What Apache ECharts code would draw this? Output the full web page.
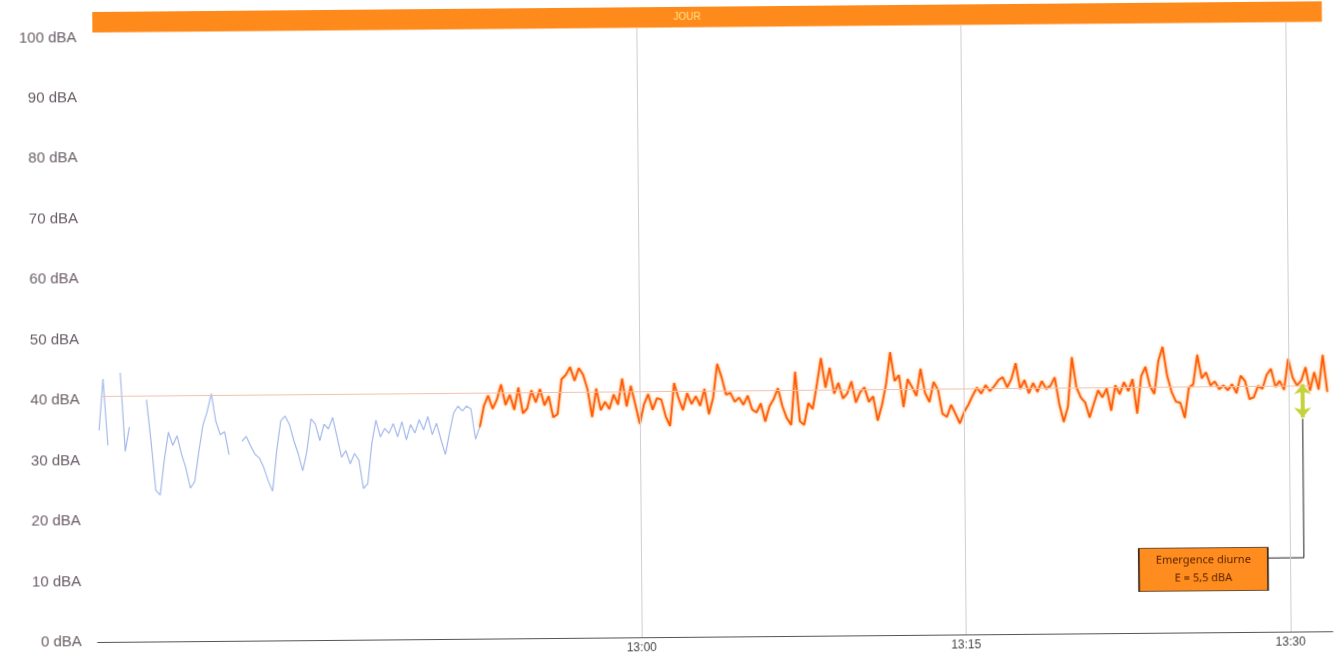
<!DOCTYPE html>
<html>
<head>
<meta charset="utf-8">
<script src="https://cdn.jsdelivr.net/npm/echarts@6/dist/echarts.min.js"></script>
<style>
  html, body { margin: 0; padding: 0; background: #fff; overflow: hidden; }
  #chart { width: 1338px; height: 656px; transform: rotate(-0.5deg); }
</style>
</head>
<body>
<div id="chart"></div>
<script>
// temps en minutes depuis 12:00, un point toutes les 0,2 min
const STEP = 0.2;
const blueStart = 35.0;
const orangeStart = 52.6;

// niveau résiduel (bleu)
const blueLevels = [
  35.0, 43.5, 32.5, null, null, 44.5, 31.5, 35.5, null, null,
  null, 40.0, 33.0, 25.0, 24.2, 30.0, 34.6, 32.4, 34.0, 31.0,
  28.6, 25.3, 26.4, 31.3, 35.7, 37.9, 40.9, 36.3, 34.1, 34.6,
  30.8, null, null, 33.0, 33.8, 32.2, 30.8, 30.2, 28.6, 26.4,
  24.7, 31.3, 36.3, 37.1, 35.7, 33.0, 30.8, 28.0, 31.3, 36.6,
  35.7, 33.0, 35.7, 34.9, 36.8, 33.5, 30.2, 31.3, 29.1, 30.8,
  29.7, 25.0, 25.8, 32.4, 36.3, 33.5, 34.9, 34.1, 35.7, 33.5,
  36.0, 33.0, 35.5, 34.1, 36.3, 34.6, 36.8, 33.8, 35.7, 33.0,
  30.5, 34.1, 37.4, 38.5, 37.7, 38.5, 38.0, 33.0, 35.0
];

// niveau ambiant (orange)
const orangeLevels = [
  35.0, 38.5, 40.2, 38.0, 39.5, 42.0, 38.6, 40.3, 37.8, 41.5,
  37.2, 38.0, 41.0, 39.0, 41.2, 38.5, 40.0, 36.5, 37.0, 42.8,
  43.5, 44.8, 42.5, 44.6, 43.5, 41.0, 36.5, 41.2, 37.6, 39.0,
  37.8, 40.2, 38.5, 42.8, 38.2, 41.6, 38.5, 35.3, 38.5, 40.2,
  37.6, 39.5, 39.3, 36.5, 34.9, 42.0, 39.5, 37.5, 40.3, 38.5,
  39.8, 38.2, 41.0, 36.8, 39.5, 45.1, 42.9, 40.0, 40.3, 38.8,
  39.5, 38.3, 39.8, 37.5, 37.0, 38.5, 35.5, 38.0, 39.2, 41.0,
  38.0, 36.0, 34.9, 43.7, 35.5, 34.9, 38.5, 37.5, 41.5, 45.9,
  41.0, 44.3, 40.0, 41.8, 39.2, 40.0, 42.0, 38.5, 40.2, 41.0,
  38.6, 39.5, 35.5, 38.0, 41.5, 46.8, 42.0, 43.0, 37.7, 42.3,
  41.0, 39.5, 44.0, 40.0, 38.5, 41.8, 40.5, 36.5, 36.0, 38.0,
  36.5, 34.9, 36.8, 38.0, 39.5, 40.8, 39.8, 41.2, 40.2, 41.0,
  42.0, 42.5, 40.8, 42.2, 44.8, 40.5, 42.0, 39.8, 41.5, 40.0,
  41.8, 40.5, 41.0, 42.4, 38.0, 35.0, 37.5, 45.7, 40.7, 39.0,
  38.2, 35.7, 38.0, 40.2, 39.0, 40.5, 36.8, 41.0, 39.5, 41.5,
  40.0, 42.0, 36.3, 42.5, 44.0, 40.8, 39.5, 45.0, 47.3, 42.5,
  39.8, 38.2, 38.0, 35.5, 40.5, 41.0, 45.9, 42.0, 43.0, 40.8,
  41.5, 40.2, 40.8, 40.0, 41.0, 39.5, 42.4, 41.5, 38.5, 38.8,
  40.7, 40.2, 42.5, 43.5, 40.5, 41.5, 40.0, 45.1, 42.0, 40.7,
  41.5, 43.7, 39.8, 42.9, 40.0, 45.7, 39.6
];

const xTicks = [60, 75, 90];          // 13:00, 13:15, 13:30
const xMin = 34.85, xMax = 91.95;
const refLevel = 40.7;
const dayBand = [34.85, 91.7, 100.8, 104.2];
const arrowPts = [[90.65, 40.9], [90.65, 35.4]];
const connector = [[90.65, 35.2], [90.65, 12.2], [88.97, 12.2]];
const boxAt = [86.0, 10.4];
const boxText = 'Emergence diurne\nE = 5,5 dBA';

const toPairs = (start, vals) => vals.map((v, i) => [+(start + i * STEP).toFixed(2), v]);

const fmtTime = (m) => {
  const h = 12 + Math.floor(m / 60);
  const mm = Math.round(m % 60);
  return h + ':' + (mm < 10 ? '0' + mm : mm);
};

let chart = echarts.init(document.getElementById('chart'));

chart.setOption({
  animation: false,
  grid: { left: 95, right: 8, top: 7, bottom: 19 },
  xAxis: {
    type: 'value',
    min: xMin,
    max: xMax,
    axisLine: { show: true, lineStyle: { color: '#555', width: 1.2 } },
    axisTick: { show: false },
    splitLine: { show: false },
    axisLabel: {
      customValues: xTicks,
      formatter: fmtTime,
      color: '#444',
      fontSize: 12,
      fontFamily: 'Liberation Sans',
      margin: 5
    }
  },
  yAxis: {
    type: 'value',
    min: 0,
    max: 104.2,
    interval: 10,
    axisLine: { show: false },
    axisTick: { show: false },
    splitLine: { show: false },
    axisLabel: {
      showMaxLabel: false,
      formatter: (v) => v + ' dBA',
      color: '#6a5c66',
      fontSize: 15,
      fontFamily: 'Liberation Sans',
      margin: 16
    }
  },
  series: [
    {
      name: 'residuel',
      type: 'line',
      data: toPairs(blueStart, blueLevels),
      showSymbol: false,
      connectNulls: false,
      z: 2,
      lineStyle: { color: '#94ade8', width: 1.2, opacity: 0.85 },
      markLine: {
        silent: true,
        symbol: 'none',
        label: { show: false },
        data: [
          [{ coord: [xTicks[0], 0], lineStyle: { color: '#cfcfd4', width: 1, type: 'solid' } }, { coord: [xTicks[0], dayBand[2]] }],
          [{ coord: [xTicks[1], 0], lineStyle: { color: '#cfcfd4', width: 1, type: 'solid' } }, { coord: [xTicks[1], dayBand[2]] }],
          [{ coord: [xTicks[2], 0], lineStyle: { color: '#cfcfd4', width: 1, type: 'solid' } }, { coord: [xTicks[2], dayBand[2]] }],
          [{ coord: [35.1, refLevel], lineStyle: { color: '#f2c2ae', width: 1, type: 'solid' } }, { coord: [91.0, refLevel] }]
        ]
      }
    },
    {
      name: 'ambiant',
      type: 'line',
      data: toPairs(orangeStart, orangeLevels),
      showSymbol: false,
      z: 3,
      lineStyle: {
        color: '#ff5a08',
        width: 1.9,
        shadowColor: 'rgba(255, 150, 30, 0.7)',
        shadowBlur: 3
      },
      markArea: {
        silent: true,
        itemStyle: { color: '#ff8a1c' },
        label: { show: true, position: 'inside', offset: [-20, 0], color: '#ffe48a', fontSize: 10, fontFamily: 'Liberation Sans' },
        data: [[
          { name: 'JOUR', coord: [dayBand[0], dayBand[2]] },
          { coord: [dayBand[1], dayBand[3]] }
        ]]
      }
    },
    {
      name: 'emergence',
      type: 'line',
      data: connector,
      showSymbol: false,
      silent: true,
      z: 4,
      lineStyle: { color: '#222', width: 1 },
      markLine: {
        silent: true,
        symbol: ['arrow', 'arrow'],
        symbolSize: [13, 10],
        label: { show: false },
        lineStyle: { color: '#c6d23a', width: 4, type: 'solid' },
        data: [[{ coord: arrowPts[0] }, { coord: arrowPts[1] }]]
      },
      markPoint: {
        silent: true,
        symbol: 'rect',
        symbolSize: [129, 43],
        itemStyle: { color: '#ff8c1e', borderColor: '#3b2a1c', borderWidth: 1 },
        label: {
          show: true,
          position: 'inside',
          formatter: boxText,
          color: '#5a2300',
          fontSize: 11,
          lineHeight: 18,
          fontFamily: 'Noto Sans'
        },
        data: [{ coord: boxAt }]
      }
    }
  ]
});
</script>
</body>
</html>
